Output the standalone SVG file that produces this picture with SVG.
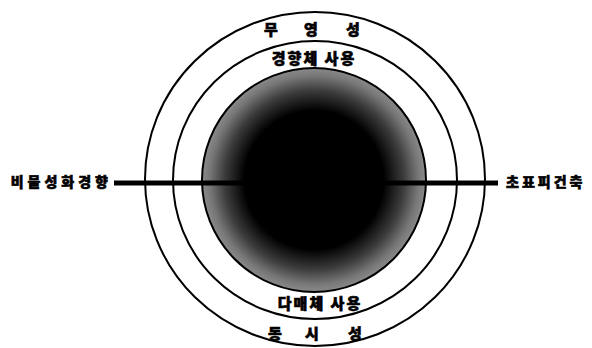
<svg xmlns="http://www.w3.org/2000/svg" width="592" height="348" viewBox="0 0 592 348">
<style>
.ring{fill:none;stroke:#000;stroke-width:2}
.lbl{font-family:"Noto Sans CJK KR","Noto Sans",sans-serif;font-weight:900;fill:#000;stroke:#000;stroke-width:0.6;font-size:14px}
.big{font-size:15px}
.mid{font-size:15px;letter-spacing:2px}
</style>
<defs>
<radialGradient id="core" cx="0.5" cy="0.5" r="0.5">
<stop offset="0" stop-color="#000"/>
<stop offset="0.62" stop-color="#000"/>
<stop offset="0.8" stop-color="#3c3c3c"/>
<stop offset="0.93" stop-color="#777"/>
<stop offset="1" stop-color="#8a8a8a"/>
</radialGradient>
</defs>
<rect width="592" height="348" fill="#fff"/>
<g id="outer-ring">
<ellipse class="ring" cx="315" cy="179" rx="170" ry="167"/>
</g>
<g id="middle-ring">
<ellipse class="ring" cx="315" cy="180" rx="142" ry="139"/>
</g>
<g id="core-circle">
<circle cx="314" cy="180" r="112" fill="url(#core)" stroke="#000" stroke-width="2"/>
</g>
<g id="connectors">
<line x1="114" y1="183" x2="498" y2="183" stroke="#000" stroke-width="5"/>
</g>
<g id="label-top">
<text class="lbl big" x="271" y="35" text-anchor="middle">무</text>
<text class="lbl big" x="311" y="35" text-anchor="middle">영</text>
<text class="lbl big" x="353" y="35" text-anchor="middle">성</text>
</g>
<g id="label-inner-top">
<text class="lbl mid" x="314" y="64" text-anchor="middle">경향체 사용</text>
</g>
<g id="label-inner-bottom">
<text class="lbl mid" x="320" y="309" text-anchor="middle">다매체 사용</text>
</g>
<g id="label-bottom">
<text class="lbl big" x="275" y="339" text-anchor="middle">동</text>
<text class="lbl big" x="312" y="339" text-anchor="middle">시</text>
<text class="lbl big" x="355" y="339" text-anchor="middle">성</text>
</g>
<g id="label-left">
<text class="lbl" x="112" y="187" text-anchor="end" letter-spacing="4">비물성화경향</text>
</g>
<g id="label-right">
<text class="lbl" x="506" y="187" letter-spacing="3">초표피건축</text>
</g>
</svg>
